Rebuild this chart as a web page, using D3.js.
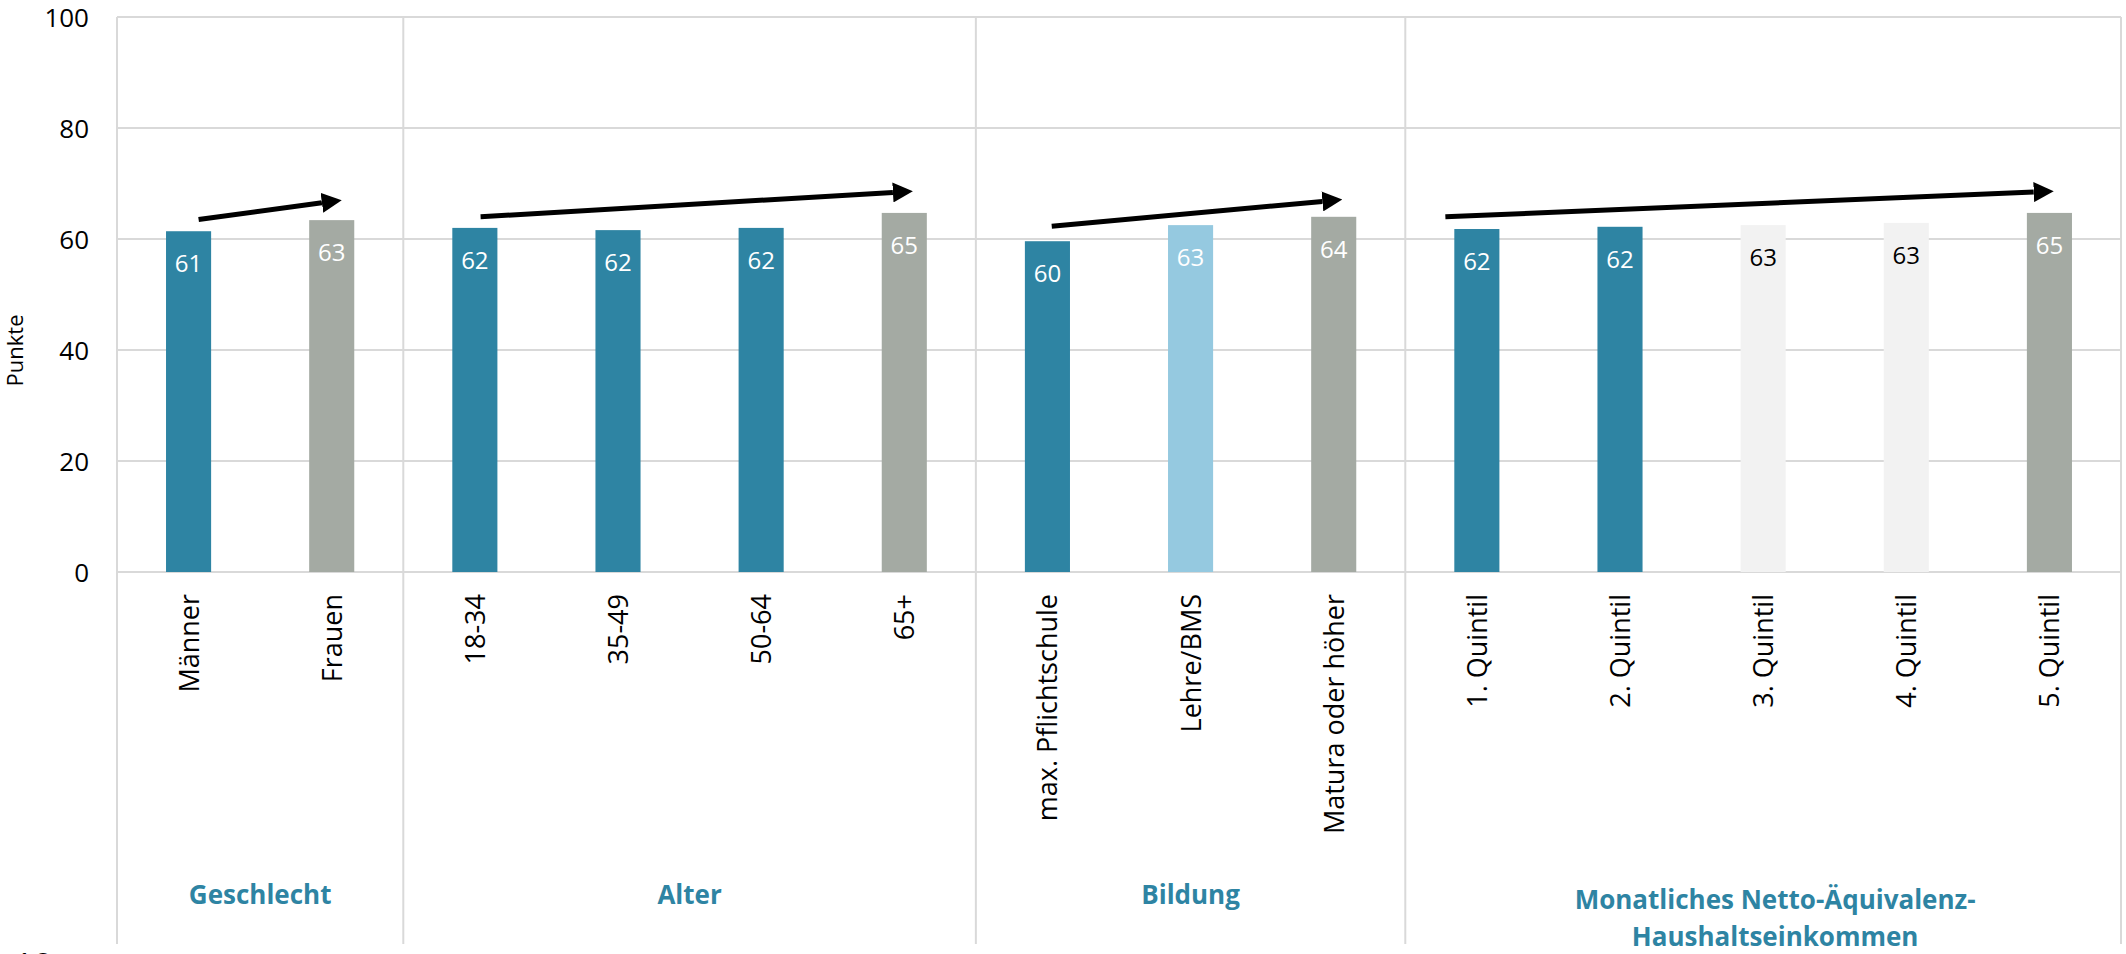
<!DOCTYPE html>
<html>
<head>
<meta charset="utf-8">
<script src="https://cdn.jsdelivr.net/npm/d3@7"></script>
<style>
  html, body { margin: 0; padding: 0; background: #fff; overflow: hidden; }
  svg { display: block; font-family: "Open Sans", "Noto Sans", sans-serif; }
</style>
</head>
<body>
<svg id="drawing_region"></svg>
<script>
// categories and values
const categories = ["Männer", "Frauen", "18-34", "35-49", "50-64", "65+",
    "max. Pflichtschule", "Lehre/BMS", "Matura oder höher",
    "1. Quintil", "2. Quintil", "3. Quintil", "4. Quintil", "5. Quintil"];
const values = [61.4, 63.4, 62.0, 61.6, 62.0, 64.7, 59.6, 62.5, 64.0, 61.8, 62.2, 62.5, 62.9, 64.7];
const labels = ["61", "63", "62", "62", "62", "65", "60", "63", "64", "62", "62", "63", "63", "65"];
const colorKeys = ["low", "high", "low", "low", "low", "high", "low", "mid", "high", "low", "low", "light", "light", "high"];

const groups = [
    { name: ["Geschlecht"], first: 0, last: 1 },
    { name: ["Alter"], first: 2, last: 5 },
    { name: ["Bildung"], first: 6, last: 8 },
    { name: ["Monatliches Netto-Äquivalenz-", "Haushaltseinkommen"], first: 9, last: 13 }
];

// trend arrows: from category / value to category / value (offset as share of band)
const arrows = [
    { from: 0, v0: 63.5, to: 1, v1: 67.0, dx0: 0.07, dx1: 0.07 },
    { from: 2, v0: 64.0, to: 5, v1: 68.6, dx0: 0.04, dx1: 0.06 },
    { from: 6, v0: 62.3, to: 8, v1: 67.1, dx0: 0.03, dx1: 0.06 },
    { from: 9, v0: 64.0, to: 13, v1: 68.6, dx0: -0.22, dx1: 0.03 }
];

const yticks = [0, 20, 40, 60, 80, 100];

const palette = {
    low: "#2E84A3",
    high: "#A4AAA3",
    mid: "#95C9E0",
    light: "#F2F2F2"
};
const labelColor = { low: "#fff", high: "#fff", mid: "#fff", light: "#000" };

const width = 2126, height = 954;
const plotLeft = 117, plotRight = 2121, plotTop = 17, zeroY = 572, plotBottom = 944;

const svg = d3.select("#drawing_region")
    .attr("width", width)
    .attr("height", height);

const x = d3.scaleBand()
    .domain(d3.range(categories.length))
    .range([plotLeft, plotRight])
    .padding(0);

const y = d3.scaleLinear()
    .domain([0, 100])
    .range([zeroY, plotTop]);

const barW = x.bandwidth() * 0.315;
const cx = i => x(i) + x.bandwidth() / 2;

// gridlines
svg.append("g")
    .selectAll("line")
    .data(yticks)
    .join("line")
    .attr("x1", plotLeft)
    .attr("x2", plotRight)
    .attr("y1", d => y(d))
    .attr("y2", d => y(d))
    .attr("stroke", "#D9D9D9")
    .attr("stroke-width", 2);

// vertical separators (left axis, group borders, right border)
const seps = [0].concat(groups.map(g => g.last + 1));
svg.append("g")
    .selectAll("line")
    .data(seps)
    .join("line")
    .attr("x1", d => d < categories.length ? x(d) : plotRight)
    .attr("x2", d => d < categories.length ? x(d) : plotRight)
    .attr("y1", plotTop)
    .attr("y2", plotBottom)
    .attr("stroke", "#D9D9D9")
    .attr("stroke-width", 2);

// y axis
const yaxis = d3.axisLeft(y)
    .tickValues(yticks)
    .tickSize(0)
    .tickPadding(28);

svg.append("g")
    .attr("transform", `translate(${plotLeft}, 0)`)
    .call(yaxis)
    .call(g => g.select(".domain").remove())
    .selectAll("text")
    .attr("font-family", "Open Sans")
    .attr("font-size", "26px")
    .attr("dy", "0.36em")
    .attr("fill", "#000");

// y label
svg.append("text")
    .attr("transform", `translate(23, ${(plotTop + zeroY) / 2 + 56}) rotate(-90)`)
    .attr("text-anchor", "middle")
    .attr("font-size", "22px")
    .attr("fill", "#000")
    .text("Punkte");

// bars
svg.append("g")
    .selectAll("rect")
    .data(values)
    .join("rect")
    .attr("x", (d, i) => cx(i) - barW / 2)
    .attr("y", d => y(d))
    .attr("width", barW)
    .attr("height", d => zeroY - y(d))
    .attr("fill", (d, i) => palette[colorKeys[i]]);

// value labels inside bars
svg.append("g")
    .selectAll("text")
    .data(values)
    .join("text")
    .attr("x", (d, i) => cx(i))
    .attr("y", d => y(d) + 41)
    .attr("text-anchor", "middle")
    .attr("font-size", "24px")
    .attr("fill", (d, i) => labelColor[colorKeys[i]])
    .text((d, i) => labels[i]);

// category labels (rotated)
svg.append("g")
    .selectAll("text")
    .data(categories)
    .join("text")
    .attr("transform", (d, i) => `translate(${cx(i) + 10}, ${zeroY + 22}) rotate(-90)`)
    .attr("text-anchor", "end")
    .attr("font-size", "27px")
    .attr("fill", "#000")
    .text(d => d);

// group labels
groups.forEach(g => {
    const gx = (x(g.first) + x(g.last) + x.bandwidth()) / 2 + (g.name.length > 1 ? 12 : 0);
    const t = svg.append("text")
        .attr("text-anchor", "middle")
        .attr("font-size", "26px")
        .attr("font-weight", "bold")
        .attr("fill", "#2E84A3");
    g.name.forEach((line, k) => {
        t.append("tspan")
            .attr("x", gx)
            .attr("y", (g.name.length > 1 ? 909 : 904) + k * 37)
            .text(line);
    });
});

// arrows
svg.append("defs").append("marker")
    .attr("id", "head")
    .attr("viewBox", "0 0 10 10")
    .attr("refX", 0)
    .attr("refY", 5)
    .attr("markerWidth", 4)
    .attr("markerHeight", 4)
    .attr("markerUnits", "strokeWidth")
    .attr("orient", "auto")
    .append("path")
    .attr("d", "M0,0 L10,5 L0,10 Z")
    .attr("fill", "#000");

const ax0 = d => cx(d.from) + d.dx0 * x.bandwidth();
const ax1 = d => cx(d.to) + d.dx1 * x.bandwidth();
const headLen = 20;

svg.append("g")
    .selectAll("line")
    .data(arrows)
    .join("line")
    .attr("x1", d => ax0(d))
    .attr("y1", d => y(d.v0))
    .attr("x2", d => {
        const dx = ax1(d) - ax0(d), dy = y(d.v1) - y(d.v0);
        const len = Math.hypot(dx, dy);
        return ax1(d) - dx / len * headLen;
    })
    .attr("y2", d => {
        const dx = ax1(d) - ax0(d), dy = y(d.v1) - y(d.v0);
        const len = Math.hypot(dx, dy);
        return y(d.v1) - dy / len * headLen;
    })
    .attr("stroke", "#000")
    .attr("stroke-width", 5)
    .attr("marker-end", "url(#head)");

// page number, cut off at the bottom edge
svg.append("text")
    .attr("x", 14)
    .attr("y", 978)
    .attr("font-size", "34px")
    .attr("fill", "#000")
    .text("12");
</script>
</body>
</html>
